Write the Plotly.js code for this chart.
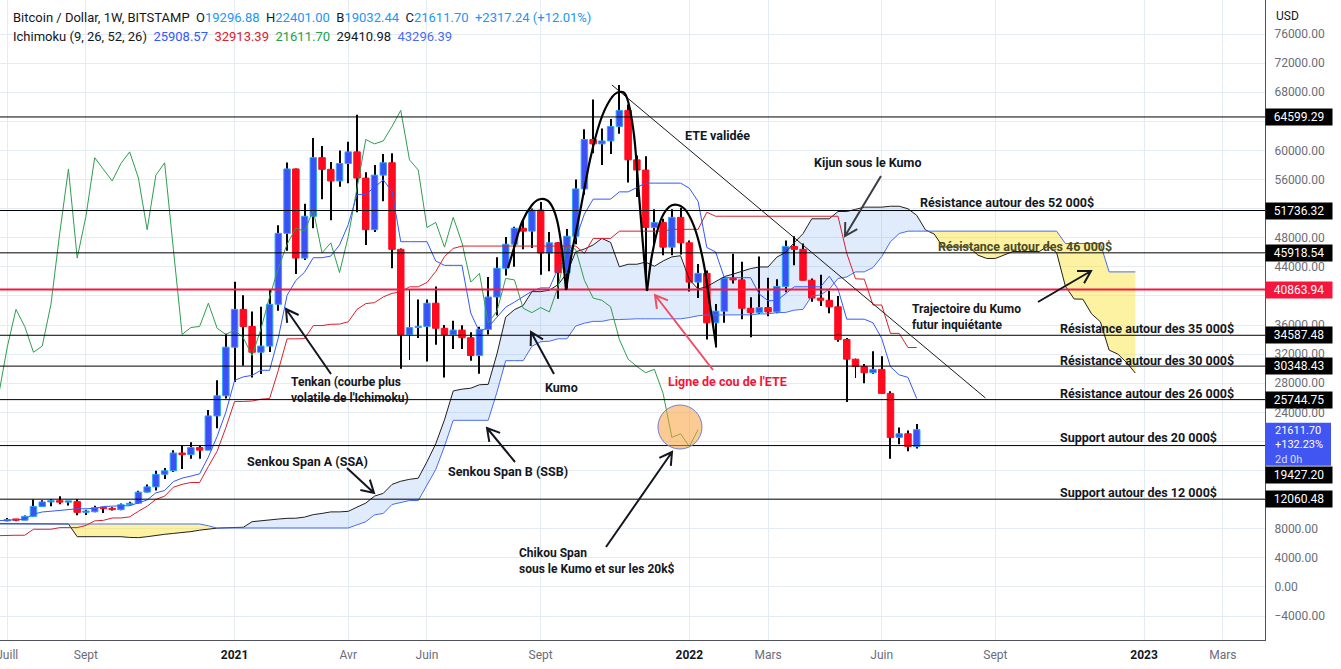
<!DOCTYPE html>
<html><head><meta charset="utf-8">
<script src="https://cdn.plot.ly/plotly-3.0.1.min.js"></script>
<style>html,body{margin:0;padding:0;background:#fff;overflow:hidden}#chart{width:1341px;height:669px}</style>
</head><body><div id="chart"></div>
<script>
// ---------------- DATA ----------------
const weeks = ["2020-07-06","2020-07-13","2020-07-20","2020-07-27","2020-08-03","2020-08-10","2020-08-17","2020-08-24","2020-08-31","2020-09-07",
"2020-09-14","2020-09-21","2020-09-28","2020-10-05","2020-10-12","2020-10-19","2020-10-26","2020-11-02","2020-11-09","2020-11-16",
"2020-11-23","2020-11-30","2020-12-07","2020-12-14","2020-12-21","2020-12-28","2021-01-04","2021-01-11","2021-01-18","2021-01-25",
"2021-02-01","2021-02-08","2021-02-15","2021-02-22","2021-03-01","2021-03-08","2021-03-15","2021-03-22","2021-03-29","2021-04-05",
"2021-04-12","2021-04-19","2021-04-26","2021-05-03","2021-05-10","2021-05-17","2021-05-24","2021-05-31","2021-06-07","2021-06-14",
"2021-06-21","2021-06-28","2021-07-05","2021-07-12","2021-07-19","2021-07-26","2021-08-02","2021-08-09","2021-08-16","2021-08-23",
"2021-08-30","2021-09-06","2021-09-13","2021-09-20","2021-09-27","2021-10-04","2021-10-11","2021-10-18","2021-10-25","2021-11-01",
"2021-11-08","2021-11-15","2021-11-22","2021-11-29","2021-12-06","2021-12-13","2021-12-20","2021-12-27","2022-01-03","2022-01-10",
"2022-01-17","2022-01-24","2022-01-31","2022-02-07","2022-02-14","2022-02-21","2022-02-28","2022-03-07","2022-03-14","2022-03-21",
"2022-03-28","2022-04-04","2022-04-11","2022-04-18","2022-04-25","2022-05-02","2022-05-09","2022-05-16","2022-05-23","2022-05-30",
"2022-06-06","2022-06-13","2022-06-20","2022-06-27","2022-07-04"];
const futureWeeks = ["2022-07-11","2022-07-18","2022-07-25","2022-08-01","2022-08-08","2022-08-15","2022-08-22","2022-08-29","2022-09-05","2022-09-12",
"2022-09-19","2022-09-26","2022-10-03","2022-10-10","2022-10-17","2022-10-24","2022-10-31","2022-11-07","2022-11-14","2022-11-21",
"2022-11-28","2022-12-05","2022-12-12","2022-12-19","2022-12-26"];
const priorWeek = "2020-06-29";

const opens = [9070,9240,9160,9700,11060,11680,11850,11650,11720,10250,
10330,10900,10750,10620,11300,11500,13030,13750,15480,15960,
18400,18180,19150,18800,23500,26270,32950,38150,35800,32250,
33100,38850,48600,57450,45200,50950,59000,57400,55800,58200,
59800,56200,49100,56600,58300,46400,34700,35650,35800,39000,
35550,34700,35300,34250,31800,35400,39850,43800,47100,49300,
48900,51800,45900,47300,43200,48200,54700,61500,60900,61300,
63300,65500,58700,57300,49400,50100,46700,50800,47300,41900,
43100,36300,37900,42400,42200,38300,37700,38400,37800,41300,
46800,46400,42150,39700,39400,38500,34000,31300,30300,29450,
29900,26600,20550,21050,19296.88];
const highs = [9460,9340,9800,12000,11900,12080,12450,11800,12090,10600,
11150,11000,10950,11450,11720,13220,14060,15960,16350,18800,
19400,19900,19400,24300,28400,34800,41950,40100,37850,38500,
40950,49700,58350,57500,52650,61700,60600,58400,60000,61200,
64900,57000,58000,59500,59600,46500,40800,39500,39500,41300,
36000,36600,35950,35000,35750,42600,45300,48100,49500,50500,
52000,52900,48800,47400,49200,56000,62900,67000,63000,64300,
69000,66300,59300,59200,51900,50600,51900,52100,47600,44400,
43500,38900,42600,45800,44700,39800,45400,42500,42300,47600,
48200,47200,42400,42900,40700,40000,34200,31400,30650,32400,
31700,26900,21900,21500,22401.00];
const lows = [9040,9030,9150,9650,10980,11100,11350,11200,9850,9900,
10250,10150,10500,10550,11180,11400,12980,13250,14820,15800,
16200,17600,17600,18800,21800,25900,28150,30400,28800,29250,
32300,37950,46200,43000,44950,49300,53300,50400,55000,55500,
51500,47000,48800,53000,43800,30000,31200,34200,31000,33300,
28800,32700,32700,31100,29300,34700,37300,42800,44000,46400,
46600,42900,43400,39600,40800,47100,53900,59600,58000,59500,
62300,55600,53600,42000,46900,45600,45600,45700,40600,39700,
34000,32900,36300,41700,36800,34300,37500,37200,37600,40500,
44200,42100,39200,38600,37600,33700,25400,28700,28000,29300,
26500,17600,19600,18650,19032.44];
const closes = [9240,9160,9700,11060,11680,11850,11650,11720,10250,10330,
10900,10750,10620,11300,11500,13030,13750,15480,15960,18400,
18180,19150,18800,23500,26270,32950,38150,35800,32250,33100,
38850,48600,57450,45200,50950,59000,57400,55800,58200,59800,
56200,49100,56600,58300,46400,34700,35650,35800,39000,35550,
34700,35300,34250,31800,35400,39850,43800,47100,49300,48900,
51800,45900,47300,43200,48200,54700,61500,60900,61300,63300,
65500,58700,57300,49400,50100,46700,50800,47300,41900,43100,
36300,37900,42400,42200,38300,37700,38400,37800,41300,46800,
46400,42150,39700,39400,38500,34000,31300,30300,29450,29900,
26600,20550,21050,19297,21611.70];

// Ichimoku lines (first value = week before the first candle)
const tenkan = [9100,
9150,9250,9300,10000,10300,10400,10500,10700,10740,10740,
10800,11050,11150,11150,11150,11535,11955,12930,13250,14475,
14950,15225,15540,17850,20690,24025,28385,28875,29075,29775,
29775,34250,40075,42125,43250,45250,45250,45475,47000,49825,
53950,53950,54925,55950,54350,47450,47450,47450,47450,44800,
44200,44200,44200,37650,35050,35700,37050,38450,39150,39900,
40650,41100,41100,43800,45100,47800,51250,53300,53300,53300,
54300,54300,54900,55500,55500,55500,55500,55500,54800,53000,
46650,46050,42500,42500,42500,42500,40250,39350,39350,40250,
41250,41250,41250,41250,42700,40950,36800,36800,36800,36300,
34150,30250,29150,28800,25900];
const kijun = [7040,
7100,7100,7100,7925,7925,7925,8150,8150,8150,8450,
9075,9150,9475,9475,9625,10400,11080,12030,12475,13700,
14100,14350,14350,16550,18650,21900,25490,25490,25550,25800,
25900,29775,34100,34100,34125,35925,35925,36100,36125,36440,
38150,38940,39075,39860,40350,40550,41250,41250,41850,43350,
45400,46525,46850,46850,46850,46850,46850,46850,46850,46850,
46850,46850,46850,46850,46850,46850,45850,47900,47900,47900,
48900,48900,48900,48900,48900,48900,49150,49150,49150,49150,
51500,50950,50950,50950,50950,50950,50950,50950,50950,50950,
50950,50950,50950,50950,50950,50950,45850,42350,42300,38750,
38750,34850,34850,32900,32900];
// Senkou spans: prior week + candle weeks + 25 future weeks
const senkouA = [8700,8700,8700,8700,8700,8700,8700,8700,8650,
6900,6900,6950,7000,7000,6900,6800,6770,6900,7100,7230,7350,7450,7600,7800,7950,8075,
8125,8175,8200,8962,9112,9162,9325,9425,9445,9595,
9937,10100,10312,10312,10387,10967,11517,12480,12862,14087,
14525,14787,14945,17200,19670,22962,26937,27182,27312,27787,
27837,32012,37087,38112,38687,40587,40587,40787,41562,43132,
46050,46445,47000,47905,47350,44000,44350,44350,44650,44075,
44800,45362,45525,42250,40950,41275,41950,42650,43000,43375,
43750,43975,43975,45325,45975,47325,48550,50600,50600,50600,
51600,51600,51900,52200,52200,52200,52325,52325,51975,51075,
49075,48500,46725,46725,46725,46725,45600,45150,45150,45600,
46100,46100,46100,46100,46825,45950,41325,39575,39550,37525,
36450,32550,32000,30850,29400];
const senkouB = [8650,8650,8650,8650,8650,8650,8650,8650,8650,8650,8650,8650,
8650,8650,8650,8650,8650,8650,8650,8650,8650,8650,8650,8650,8400,8075,
8100,8100,8100,8100,8100,8100,8100,8100,8100,8100,8100,8100,8100,8100,8100,
8535,8955,9905,10100,11325,11625,11875,11875,14075,16125,19325,
22900,22900,22900,22900,22900,26775,31100,31100,31100,33075,33700,33775,
34100,34100,35850,36250,36500,36500,36750,36750,
36850,36850,36850,36850,36850,36850,36850,37025,37275,
37375,37375,37375,37375,37375,37400,37525,37525,37700,37725,
38040,38150,39990,40125,40910,42400,42600,43300,43300,43900,
45400,47450,48575,48900,48900,48900,48900,48900,48900,48900,
48900,48900,48900,48900,48900,48900,48900,48900,48900,48900,48900,
47200,47200,47200,47200,47200,43300,43300,43300,43300];

const levelLines = [64599.29, 51736.32, 45918.54, 34587.48, 30348.43, 25744.75, 19427.20, 12060.48];
const necklineLevel = 40863.94;
const lastPrice = 21611.70;

const xTickVals = ["2020-07-06","2020-09-07","2021-01-04","2021-04-05","2021-06-07","2021-09-06","2022-01-03","2022-03-07","2022-06-06","2022-09-05","2023-01-02","2023-03-06"];
const xTickText = ["Juill","Sept","<b><span style='color:#131722'>2021</span></b>","Avr","Juin","Sept","<b><span style='color:#131722'>2022</span></b>","Mars","Juin","Sept","<b><span style='color:#131722'>2023</span></b>","Mars"];
const yTickVals = [-4000,0,4000,8000,12000,16000,20000,24000,28000,32000,36000,40000,44000,48000,52000,56000,60000,64000,68000,72000,76000];
// labels hidden behind the price tags are left blank
const yTickText = ["\u22124000.00","0.00","4000.00","8000.00","","","","24000.00","28000.00","32000.00","36000.00","","44000.00","48000.00","","56000.00","60000.00","","68000.00","72000.00","76000.00"];

// ---------------- STYLE ----------------
const FONT = 'Roboto, "Noto Sans", sans-serif';
const PW = 1265, PH = 640;
const UP_FILL = '#3d4ff5', UP_LINE = '#2aa6f5', DN_FILL = '#ff0a1e', DN_LINE = '#ff0a1e';
const DAY = 86400000;
const BODY_W = 5.2 * DAY, WICK_W = 0.8 * DAY;
const P = (x, y) => [x / PW, 1 - y / PH];

function fmt(t){const d=new Date(t);const p=n=>String(n).padStart(2,'0');
  return d.getUTCFullYear()+'-'+p(d.getUTCMonth()+1)+'-'+p(d.getUTCDate())+' '+p(d.getUTCHours())+':'+p(d.getUTCMinutes())+':'+p(d.getUTCSeconds());}

const traces = [];
// ---- cloud (bottom subplot) ----
const cloudDates = [priorWeek].concat(weeks, futureWeeks);
(function(){
  const t = cloudDates.map(d => Date.parse(d));
  const diff = i => senkouA[i] - senkouB[i];
  const segs = []; let cur = null;
  for (let i = 0; i < t.length; i++) {
    const d = diff(i);
    if (!cur) { cur = {up: d >= 0, t:[t[i]], a:[senkouA[i]], b:[senkouB[i]]}; continue; }
    const up = d > 0 ? true : d < 0 ? false : cur.up;
    if (up !== cur.up) {
      const d0 = diff(i-1); let tc, vc;
      if (d0 === 0) { tc = t[i-1]; vc = senkouA[i-1]; }
      else { const f = d0/(d0-d); tc = t[i-1] + f*(t[i]-t[i-1]); vc = senkouA[i-1] + f*(senkouA[i]-senkouA[i-1]);
             cur.t.push(tc); cur.a.push(vc); cur.b.push(vc); }
      segs.push(cur); cur = {up, t:[tc], a:[vc], b:[vc]};
    }
    cur.t.push(t[i]); cur.a.push(senkouA[i]); cur.b.push(senkouB[i]);
  }
  segs.push(cur);
  segs.forEach(s => {
    const xs = s.t.map(fmt);
    traces.push({type:'scatter', mode:'lines', x:xs, y:s.b, line:{width:0}, xaxis:'x', yaxis:'y', hoverinfo:'skip'});
    traces.push({type:'scatter', mode:'lines', x:xs, y:s.a, line:{width:0}, fill:'tonexty',
      fillcolor: s.up ? 'rgba(100,160,240,0.20)' : 'rgba(250,228,60,0.48)', xaxis:'x', yaxis:'y', hoverinfo:'skip'});
  });
})();

// ---- candles (middle subplot) ----
traces.push({type:'bar', x:weeks, base:lows, y:highs.map((h,i)=>h-lows[i]), width:WICK_W,
  marker:{color:'#000', line:{width:0}}, xaxis:'x', yaxis:'y2', hoverinfo:'skip'});
const upI = [], dnI = [];
closes.forEach((c,i) => (c >= opens[i] ? upI : dnI).push(i));
function bodies(idx, fill, line){
  return {type:'bar', x:idx.map(i=>weeks[i]), base:idx.map(i=>Math.min(opens[i],closes[i])),
    y:idx.map(i=>Math.max(Math.abs(closes[i]-opens[i]),180)), width:BODY_W,
    marker:{color:fill, line:{color:line, width:1}}, xaxis:'x', yaxis:'y2', hoverinfo:'skip'};
}
traces.push(bodies(upI, UP_FILL, UP_LINE));
traces.push(bodies(dnI, DN_FILL, DN_LINE));

// ---- ichimoku lines (top subplot) ----
const lineDates = [priorWeek].concat(weeks);
const chikouDates = [priorWeek].concat(weeks.slice(0, weeks.length - 25));
const chikouVals = closes.slice(24);
function ln(x, y, color, w){ return {type:'scatter', mode:'lines', x, y, line:{color, width:w||1}, xaxis:'x', yaxis:'y3', hoverinfo:'skip'}; }
traces.push(ln(cloudDates, senkouA, '#202020'));
traces.push(ln(cloudDates, senkouB, '#4a6cf4'));
traces.push(ln(chikouDates, chikouVals, '#2f9e4f'));
traces.push(ln(lineDates, kijun, '#d9202c'));
traces.push(ln(lineDates, tenkan, '#3358ff'));

// ---------------- SHAPES ----------------
const shapes = [];
levelLines.forEach(v => shapes.push({type:'line', xref:'paper', x0:0, x1:1, yref:'y', y0:v, y1:v, line:{color:'#000', width:1}, layer:'above'}));
shapes.push({type:'line', xref:'paper', x0:0, x1:1, yref:'y', y0:necklineLevel, y1:necklineLevel, line:{color:'#f5173f', width:2}, layer:'above'});
shapes.push({type:'line', xref:'x', yref:'y', x0:'2021-11-02', y0:69000, x1:'2022-08-28', y1:25970, line:{color:'#1a1a1a', width:1}, layer:'above'});
shapes.push({type:'circle', xref:'x', yref:'y', xsizemode:'pixel', ysizemode:'pixel', xanchor:'2021-12-26 12:00', yanchor:21980,
  x0:-22, x1:22, y0:-22, y1:22, fillcolor:'rgba(250,160,60,0.55)', line:{color:'#6f7fd0', width:1}, layer:'above'});

function pt(p){ const q = P(p[0], p[1]); return q[0].toFixed(5)+' '+q[1].toFixed(5); }
function arrowPath(t, h, len, ang){
  len = len || 14; ang = (ang || 30) * Math.PI / 180;
  const dx = h[0]-t[0], dy = h[1]-t[1], L = Math.hypot(dx,dy), ux = dx/L, uy = dy/L;
  const c = Math.cos(ang), s = Math.sin(ang);
  const a1 = [h[0] + len*(-ux*c + uy*s), h[1] + len*(-ux*s - uy*c)];
  const a2 = [h[0] + len*(-ux*c - uy*s), h[1] + len*(ux*s - uy*c)];
  return 'M'+pt(t)+' L'+pt(h)+' M'+pt(a1)+' L'+pt(h)+' L'+pt(a2);
}
const arrows = [
  {t:[331,374], h:[286,309], c:'#131722'},
  {t:[554,374], h:[531,332], c:'#131722'},
  {t:[347,468], h:[374,493], c:'#131722'},
  {t:[515,462], h:[487,428], c:'#131722'},
  {t:[606,547], h:[672,452], c:'#131722'},
  {t:[881,176], h:[845,236], c:'#3b3d45'},
  {t:[1038,302], h:[1091,271], c:'#131722'},
  {t:[713,370], h:[655,295], c:'#f04e64'}
];
arrows.forEach(a => shapes.push({type:'path', xref:'paper', yref:'paper', path:arrowPath(a.t, a.h), line:{color:a.c, width:2}, layer:'above'}));

function spline(pts){
  let d = 'M' + pt(pts[0]);
  for (let i = 0; i < pts.length-1; i++) {
    const p0 = pts[i-1] || pts[i], p1 = pts[i], p2 = pts[i+1], p3 = pts[i+2] || p2;
    const c1 = [p1[0] + (p2[0]-p0[0])/6, p1[1] + (p2[1]-p0[1])/6];
    const c2 = [p2[0] - (p3[0]-p1[0])/6, p2[1] - (p3[1]-p1[1])/6];
    d += ' C' + pt(c1) + ' ' + pt(c2) + ' ' + pt(p2);
  }
  return d;
}
const eteCurves = [
  [[508,268],[514,248],[522,222],[532,205],[541,199],[550,203],[557,220],[562,250],[566,290]],
  [[566,290],[572,252],[580,212],[590,160],[600,122],[610,100],[619,92],[627,98],[634,135],[639,195],[643,245],[647,291]],
  [[647,291],[652,255],[660,222],[669,207],[678,205],[687,212],[696,232],[704,265],[710,305],[716,345]]
];
eteCurves.forEach(c => shapes.push({type:'path', xref:'paper', yref:'paper', path:spline(c), line:{color:'#000', width:2.2}, layer:'above'}));

shapes.push({type:'rect', xref:'paper', x0:1, x1:1+66/PW, yref:'y', ysizemode:'pixel', yanchor:lastPrice, y0:-36, y1:7,
  fillcolor:'#4155f2', line:{width:0}, layer:'above'});

// ---------------- ANNOTATIONS ----------------
const ann = [];
function label(x, y, text, color, size, extra){
  const q = P(x, y);
  ann.push(Object.assign({xref:'paper', yref:'paper', x:q[0], y:q[1], xanchor:'left', yanchor:'middle', align:'left', text, showarrow:false,
    font:{family:FONT, size:size||12.5, color:color||'#131722'}}, extra||{}));
}
const B = s => '<b>' + s + '</b>';
label(683,135,B('ETE validée'));
label(812,162,B('Kijun sous le Kumo'));
label(918,203,B('Résistance autour des 52 000$'));
label(936,246,B('Résistance autour des 46 000$'),'#4b4a22');
label(910,317,B('Trajectoire du Kumo<br>futur inquiétante'),null,12);
label(1058,328,B('Résistance autour des 35 000$'));
label(1058,360,B('Résistance autour des 30 000$'));
label(1058,393,B('Résistance autour des 26 000$'));
label(1058,437,B('Support autour des 20 000$'));
label(1058,492,B('Support autour des 12 000$'));
label(289,390,B("Tenkan (courbe plus<br>volatile de l'Ichimoku)"),null,12);
label(543,387,B('Kumo'));
label(666,381,B("Ligne de cou de l'ETE"),'#f0163a');
label(245,461,B('Senkou Span A (SSA)'));
label(446,471,B('Senkou Span B (SSB)'));
label(517,561,B('Chikou Span<br>sous le Kumo et sur les 20k$'),null,12);

// header
const blue = s => "<span style='color:#2196f3'>" + s + "</span>";
const sp = '\u00a0\u00a0';
label(11,17,'Bitcoin / Dollar, 1W, BITSTAMP' + sp + 'O' + blue(opens[104].toFixed(2)) + sp + 'H' + blue(highs[104].toFixed(2)) + sp +
  'B' + blue(lows[104].toFixed(2)) + sp + 'C' + blue(closes[104].toFixed(2)) + sp + blue('+2317.24 (+12.01%)'), '#131722', 13);
label(11,36,'Ichimoku (9, 26, 52, 26)' + sp + "<span style='color:#3358ff'>25908.57</span>" + sp + "<span style='color:#e0202c'>32913.39</span>" + sp +
  "<span style='color:#22a04a'>21611.70</span>" + sp + "<span style='color:#131722'>29410.98</span>" + sp + "<span style='color:#4a6cf4'>43296.39</span>", '#131722', 13);
label(1274,16,'USD','#131722',12);

// right-axis price tags
function tag(v, bg, shift){
  ann.push({xref:'paper', x:1, xanchor:'left', yref:'y', y:v, yanchor:'middle', yshift:shift||0, text:v.toFixed(2), showarrow:false,
    bgcolor:bg, borderpad:1, width:64, align:'center', font:{family:FONT, size:12, color:'#fff'}});
}
levelLines.forEach(v => tag(v, '#000', v === 19427.20 ? -29 : 0));
tag(necklineLevel, '#f5163e');
ann.push({xref:'paper', x:1273/PW, xanchor:'left', yref:'y', y:lastPrice, yanchor:'top', yshift:8, align:'left', showarrow:false,
  text:lastPrice.toFixed(2) + "<br>+132.23%<br><span style='color:rgba(255,255,255,0.8)'>2d 0h</span>",
  font:{family:FONT, size:11, color:'#fff'}});

// ---------------- LAYOUT ----------------
const yRange = [-7299, 80674];
const layout = {
  width:1341, height:669, margin:{l:0, r:76, t:0, b:29},
  paper_bgcolor:'#fff', plot_bgcolor:'#fff', showlegend:false, hovermode:false, barmode:'overlay',
  font:{family:FONT, size:12, color:'#6a6d78'},
  xaxis:{type:'date', range:['2020-06-30 05:00','2023-04-08 19:00'], tickvals:xTickVals, ticktext:xTickText, ticklabeloverflow:'allow',
    showgrid:true, gridcolor:'#e4ebf3', gridwidth:1, showline:true, linecolor:'#50535e', linewidth:1,
    ticks:'outside', ticklen:4, tickcolor:'rgba(0,0,0,0)', tickfont:{family:FONT, size:12, color:'#6a6d78'}, fixedrange:true, zeroline:false},
  yaxis:{side:'right', range:yRange, tickvals:yTickVals, ticktext:yTickText, showgrid:true, gridcolor:'#e4ebf3', gridwidth:1,
    showline:true, linecolor:'#50535e', linewidth:1, ticks:'outside', ticklen:6, tickcolor:'rgba(0,0,0,0)', zeroline:false,
    tickfont:{family:FONT, size:12, color:'#6a6d78'}, fixedrange:true},
  yaxis2:{overlaying:'y', side:'right', range:yRange, visible:false, fixedrange:true},
  yaxis3:{overlaying:'y', side:'right', range:yRange, visible:false, fixedrange:true},
  shapes, annotations:ann
};
Plotly.newPlot('chart', traces, layout, {displayModeBar:false, responsive:false});
</script></body></html>
